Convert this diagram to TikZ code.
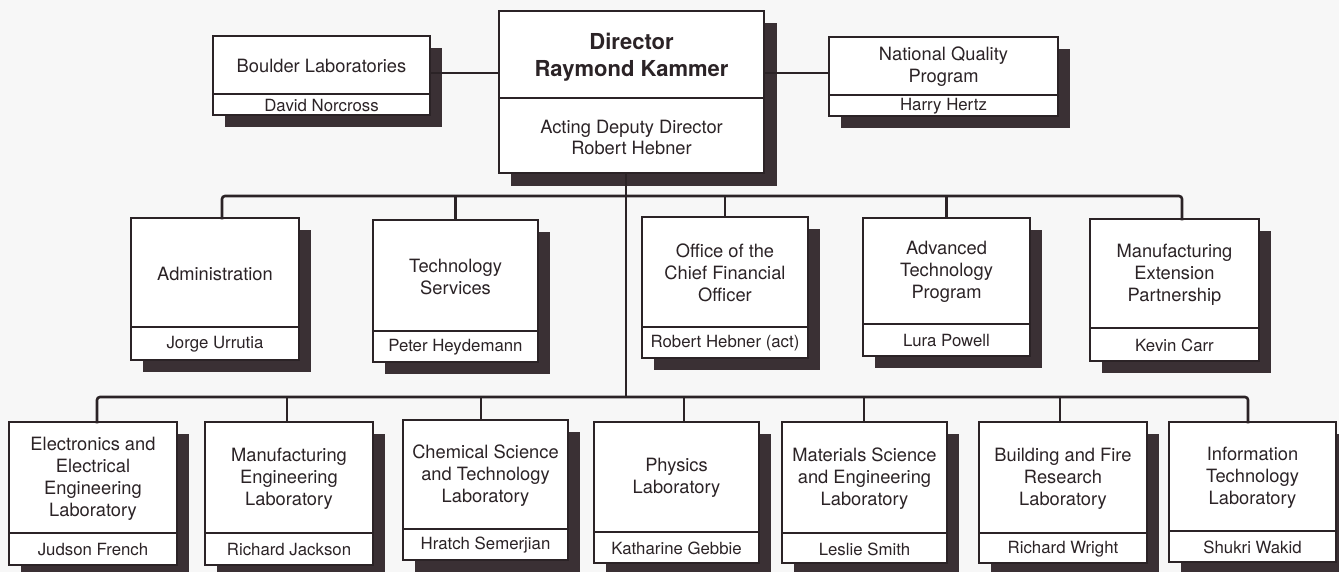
\documentclass[tikz,border=0pt]{standalone}
\usepackage{fontspec}
\setmainfont{TeX Gyre Heros}
\definecolor{ink}{HTML}{2B2326}
\definecolor{shadowc}{HTML}{3A3034}
\definecolor{paper}{HTML}{F7F7F7}
\tikzset{
  boxst/.style={draw=ink, line width=1.5pt, fill=white, rectangle, inner sep=0pt, outer sep=0pt},
  divline/.style={draw=ink, line width=1.3pt},
  conn/.style={draw=ink, line width=2.6pt, line cap=rect},
  titlest/.style={text=ink, align=center, inner sep=0pt, font=\fontsize{18.3}{22}\selectfont},
  namest/.style={text=ink, align=center, inner sep=0pt, font=\fontsize{16.8}{20}\selectfont},
}
% #1 name, #2 x1, #3 y1, #4 x2, #5 y2, #6 divider y, #7 title, #8 person
\newcommand\orgbox[8]{%
  \fill[shadowc] (#2+12,#3+12) rectangle (#4+12,#5+12);
  \node[boxst, minimum width={#4-#2}, minimum height={#5-#3}] (#1) at ({(#2+#4)/2},{(#3+#5)/2}) {};
  \draw[divline] (#2,#6) -- (#4,#6);
  \node[titlest] (#1-t) at ({(#2+#4)/2},{(#3+#6)/2+1}) {#7};
  \node[namest] (#1-p) at ({(#2+#4)/2},{(#6+#5)/2+1}) {#8};
}
\begin{document}
\begin{tikzpicture}[x=1pt,y=-1pt]
\fill[paper] (0,0) rectangle (1339,572);
\useasboundingbox (0,0) rectangle (1339,572);

% top row
\orgbox{boulder}{213}{36}{430}{115}{94}{Boulder Laboratories}{David Norcross}
\orgbox{nqp}{829}{37}{1058}{116}{95}{National Quality\\Program}{Harry Hertz}
% director
\fill[shadowc] (511,23) rectangle (777,186);
\node[boxst, minimum width=265, minimum height=162] (dir) at (631.5,92) {};
\draw[divline] (499,98) -- (764,98);
\node[text=ink, align=center, inner sep=0pt, font=\bfseries\fontsize{22}{27}\selectfont] (dir-t) at (631.5,57) {Director\\Raymond Kammer};
\node[text=ink, align=center, inner sep=0pt, font=\fontsize{18.3}{21}\selectfont] (dir-p) at (631.5,137) {Acting Deputy Director\\Robert Hebner};

% second row
\orgbox{adm}{131}{218}{299}{360}{327}{Administration}{Jorge Urrutia}
\orgbox{ts}{373}{220}{538}{362}{331}{Technology\\Services}{Peter Heydemann}
\orgbox{ocfo}{642}{217}{808}{358}{327}{Office of the\\Chief Financial\\Officer}{Robert Hebner (act)}
\orgbox{atp}{863}{218}{1030}{356}{324}{Advanced\\Technology\\Program}{Lura Powell}
\orgbox{mep}{1090}{219}{1259}{361}{328}{Manufacturing\\Extension\\Partnership}{Kevin Carr}

% third row
\orgbox{eeel}{9}{422}{177}{565}{533}{Electronics and\\Electrical\\Engineering\\Laboratory}{Judson French}
\orgbox{mel}{205}{422}{373}{565}{533}{Manufacturing\\Engineering\\Laboratory}{Richard Jackson}
\orgbox{cstl}{403}{420}{568}{560}{529}{Chemical Science\\and Technology\\Laboratory}{Hratch Semerjian}
\orgbox{phys}{594}{422}{759}{563}{532}{Physics\\Laboratory}{Katharine Gebbie}
\orgbox{msel}{782}{422}{947}{563}{533}{Materials Science\\and Engineering\\Laboratory}{Leslie Smith}
\orgbox{bfrl}{979}{422}{1147}{563}{533}{Building and Fire\\Research\\Laboratory}{Richard Wright}
\orgbox{itl}{1169}{422}{1336}{562}{531}{Information\\Technology\\Laboratory}{Shukri Wakid}

% connectors, top
\draw[conn] (boulder.east |- 0,73) coordinate (cb) -- (cb -| dir.west);
\draw[conn] (dir.east |- 0,73) coordinate (cn) -- (cn -| nqp.west);

% trunk and buses
\coordinate (b2L) at (222,196);
\coordinate (b2R) at (1182,196);
\coordinate (b3) at (626,397);
\coordinate (b3L) at (97,397);
\coordinate (b3R) at (1248,397);
\draw[conn] (dir.south -| b3) -- (b3);
\draw[conn, rounded corners=3pt] (adm.north -| b2L) -- (b2L) -- (b2R) -- (mep.north -| b2R);
\draw[conn] (ts.north) -- (ts.north |- b2L);
\draw[conn] (ocfo.north) -- (ocfo.north |- b2L);
\draw[conn] (atp.north) -- (atp.north |- b2L);

\draw[conn, rounded corners=3pt] (eeel.north -| b3L) -- (b3L) -- (b3R) -- (itl.north -| b3R);
\coordinate (dmel) at (287,397);
\coordinate (dcstl) at (481,397);
\coordinate (dphys) at (684,397);
\coordinate (dmsel) at (864,397);
\coordinate (dbfrl) at (1060,397);
\draw[conn] (dmel) -- (dmel |- mel.north);
\draw[conn] (dcstl) -- (dcstl |- cstl.north);
\draw[conn] (dphys) -- (dphys |- phys.north);
\draw[conn] (dmsel) -- (dmsel |- msel.north);
\draw[conn] (dbfrl) -- (dbfrl |- bfrl.north);
\end{tikzpicture}
\end{document}
